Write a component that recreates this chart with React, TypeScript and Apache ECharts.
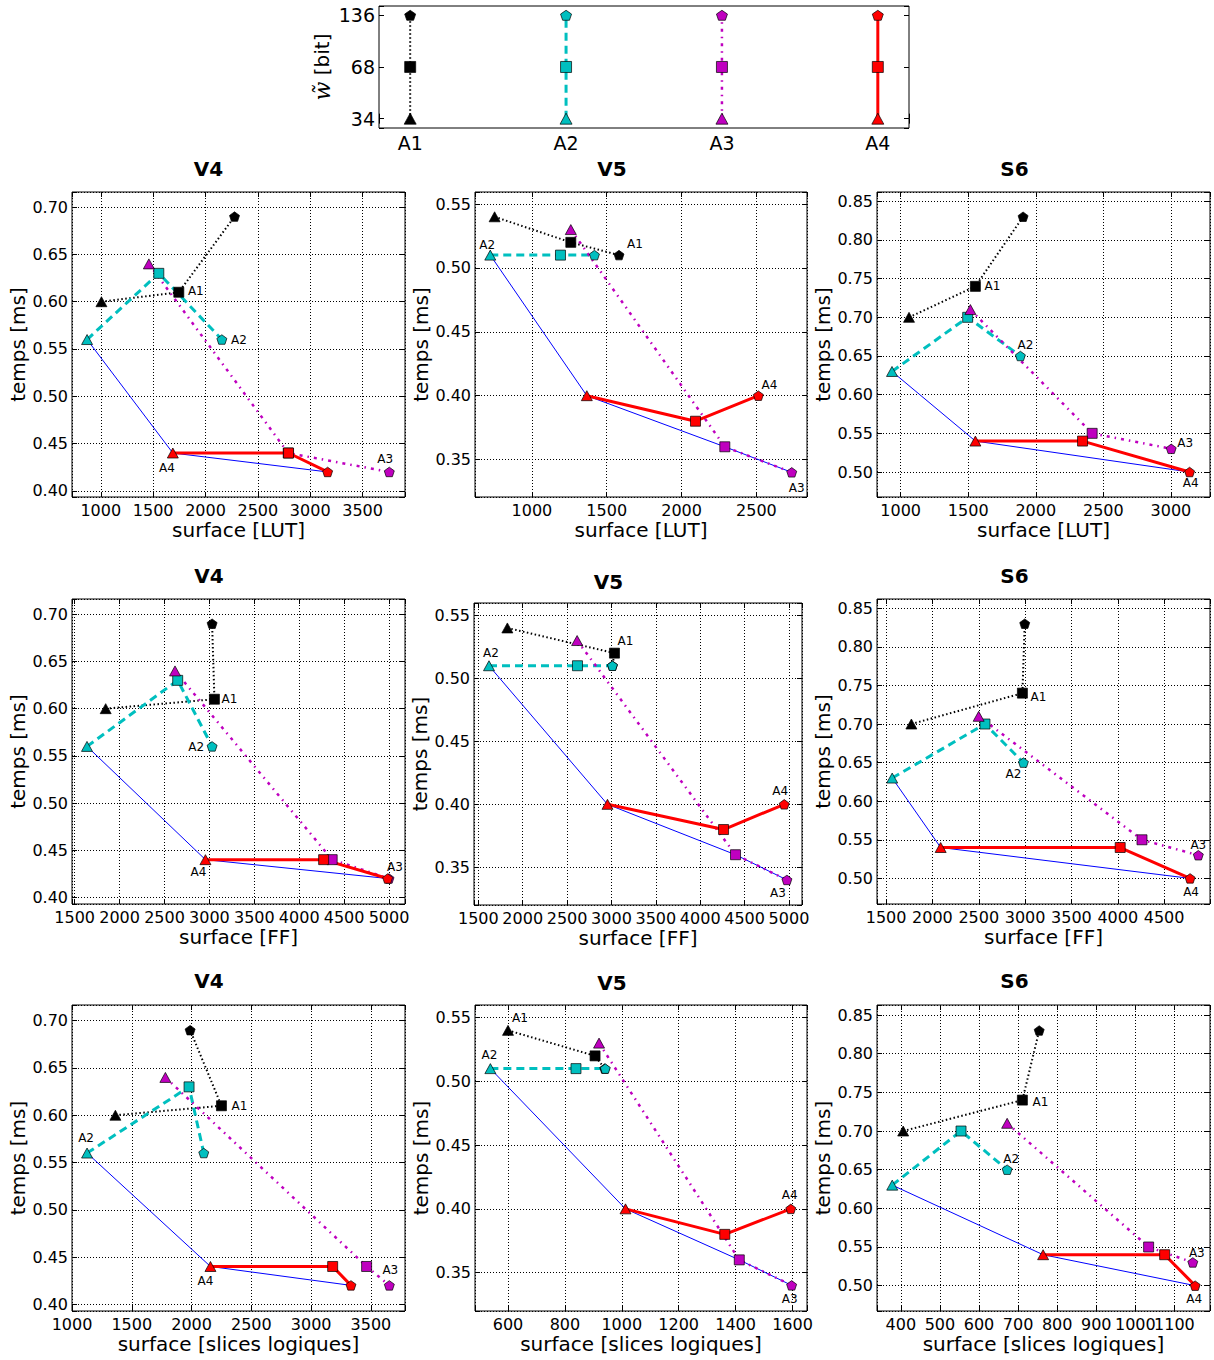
import React, { useEffect, useRef } from 'react';
import * as echarts from 'echarts';

// ---------- data ----------
const ARCHS = ['A1', 'A2', 'A3', 'A4'];
const W_BITS = [34, 68, 136];
const ROW_TITLES = ['V4', 'V5', 'S6'];
const X_NAMES = ['surface [LUT]', 'surface [FF]', 'surface [slices logiques]'];

// each: [arch][point: w=34, 68, 136]
const V4_LUT_X = [[1006, 1745, 2277], [869, 1554, 2156], [1459, 2790, 3755], [1688, 2793, 3166]];
const V4_LUT_Y = [[0.60, 0.61, 0.69], [0.56, 0.63, 0.56], [0.64, 0.44, 0.42], [0.44, 0.44, 0.42]];
const V5_LUT_X = [[751, 1260, 1582], [722, 1191, 1418], [1260, 2289, 2736], [1367, 2093, 2513]];
const V5_LUT_Y = [[0.54, 0.52, 0.51], [0.51, 0.51, 0.51], [0.53, 0.36, 0.34], [0.40, 0.38, 0.40]];
const S6_LUT_X = [[1062, 1553, 1906], [936, 1496, 1886], [1516, 2417, 3002], [1553, 2346, 3138]];
const S6_LUT_Y = [[0.70, 0.74, 0.83], [0.63, 0.70, 0.65], [0.71, 0.55, 0.53], [0.54, 0.54, 0.50]];

const V4_FF_X = [[1845, 3056, 3030], [1637, 2647, 3030], [2617, 4367, 5000], [2956, 4272, 4985]];
const V4_FF_Y = [[0.60, 0.61, 0.69], [0.56, 0.63, 0.56], [0.64, 0.44, 0.42], [0.44, 0.44, 0.42]];
const V5_FF_X = [[1827, 3034, 3011], [1620, 2617, 3011], [2613, 4398, 4977], [2955, 4263, 4947]];
const V5_FF_Y = [[0.54, 0.52, 0.51], [0.51, 0.51, 0.51], [0.53, 0.36, 0.34], [0.40, 0.38, 0.40]];
const S6_FF_X = [[1773, 2971, 2996], [1566, 2567, 2982], [2499, 4261, 4869], [2089, 4026, 4780]];
const S6_FF_Y = [[0.70, 0.74, 0.83], [0.63, 0.70, 0.65], [0.71, 0.55, 0.53], [0.54, 0.54, 0.50]];

const V4_SL_X = [[1363, 2250, 1988], [1126, 1979, 2102], [1781, 3464, 3654], [2158, 3180, 3333]];
const V4_SL_Y = [[0.60, 0.61, 0.69], [0.56, 0.63, 0.56], [0.64, 0.44, 0.42], [0.44, 0.44, 0.42]];
const V5_SL_X = [[600, 906, 940], [538, 839, 942], [920, 1413, 1597], [1013, 1362, 1594]];
const V5_SL_Y = [[0.54, 0.52, 0.51], [0.51, 0.51, 0.51], [0.53, 0.36, 0.34], [0.40, 0.38, 0.40]];
const S6_SL_X = [[406, 711, 754], [378, 554, 672], [672, 1034, 1147], [764, 1075, 1153]];
const S6_SL_Y = [[0.70, 0.74, 0.83], [0.63, 0.70, 0.65], [0.71, 0.55, 0.53], [0.54, 0.54, 0.50]];

// Pareto front: [arch index, point index]
const PARETO_V4 = [[1, 0], [3, 0], [3, 2]];
const PARETO_V5 = [[1, 0], [3, 0], [2, 1], [2, 2]];
const PARETO_S6 = [[1, 0], [3, 0], [3, 2]];

// axis ranges
const X_LIMS = [[725, 3905], [620, 2838], [825, 3289], [1470, 5178], [1451, 5147], [1402, 4995], [1000, 3785], [484, 1651], [339, 1191]];
const Y_LIMS = [[0.3935, 0.716], [0.3207, 0.5594], [0.4677, 0.862], [0.393, 0.7162], [0.3201, 0.5598], [0.4668, 0.862], [0.3929, 0.7166], [0.3199, 0.5599], [0.4672, 0.863]];
const X_STEPS = [500, 500, 500, 500, 500, 500, 500, 200, 100];

// ---------- layout / style ----------
const GRIDS = [
  { left: 72, top: 192, width: 333, height: 305 },
  { left: 475, top: 192, width: 332, height: 305 },
  { left: 877, top: 192, width: 333, height: 305 },
  { left: 72, top: 599, width: 333, height: 305 },
  { left: 474, top: 603, width: 328, height: 302 },
  { left: 877, top: 599, width: 333, height: 305 },
  { left: 72, top: 1005, width: 333, height: 306 },
  { left: 475, top: 1005, width: 332, height: 306 },
  { left: 877, top: 1005, width: 333, height: 306 },
];
const TOP_GRID = { left: 379, top: 6, width: 530, height: 122 };
const TITLE_POS = [
  [208.5, 169], [612, 169], [1014.5, 169],
  [209, 576], [608.5, 582], [1014.5, 576],
  [209, 981], [612, 983], [1014.5, 981],
];
// annotations: [arch, point, dx, dy]
const ANNOTS = [
  [[0, 1, 17, -1], [1, 2, 17, 0], [2, 2, -4, -13], [3, 0, -6, 15]],
  [[1, 0, -3, -10], [0, 2, 16, -11], [3, 2, 11, -11], [2, 2, 5, 16]],
  [[0, 1, 17, 0], [1, 2, 5, -11], [2, 2, 14, -6], [3, 2, 1, 11]],
  [[0, 1, 15, 0], [1, 2, -16, 1], [2, 2, 6, -12], [3, 0, -7, 12]],
  [[1, 0, 2, -13], [0, 1, 11, -12], [3, 2, -4, -13], [2, 2, -9, 13]],
  [[0, 1, 16, 4], [1, 2, -10, 11], [2, 2, 0, -10], [3, 2, 1, 14]],
  [[0, 1, 18, 0], [1, 0, -1, -15], [2, 2, 1, -15], [3, 0, -5, 15]],
  [[0, 0, 12, -12], [1, 0, -1, -14], [3, 2, -1, -14], [2, 2, -2, 14]],
  [[0, 1, 18, 2], [1, 2, 4, -11], [2, 2, 4, -9], [3, 2, -1, 13]],
];

const LINE_STYLES = [
  { color: '#000000', width: 2, type: [1.5, 2.5] },
  { color: '#00bfbf', width: 3, type: [8, 5] },
  { color: '#bf00bf', width: 2.5, type: [3, 5, 1.5, 5] },
  { color: '#ff0000', width: 3, type: 'solid' },
];
const PENT = 'path://M0,-1L0.951,-0.309L0.588,0.809L-0.588,0.809L-0.951,-0.309Z';
const SYMBOLS = ['triangle', 'rect', PENT];
const SIZES: any[] = [[11, 10], 10, [10, 9.5]];
const TOP_SIZES: any[] = [[12, 11], 11, [11, 10]];
const FONT = 'DejaVu Sans';
const TICK_FONT = 16;

const isMult = (v: number, iv: number) => Math.abs(v / iv - Math.round(v / iv)) < 1e-6;
const TICK = { show: true, inside: true, length: 5, lineStyle: { color: '#000', width: 1 } };

function buildOption() {
  const panelsX = [V4_LUT_X, V5_LUT_X, S6_LUT_X, V4_FF_X, V5_FF_X, S6_FF_X, V4_SL_X, V5_SL_X, S6_SL_X];
  const panelsY = [V4_LUT_Y, V5_LUT_Y, S6_LUT_Y, V4_FF_Y, V5_FF_Y, S6_FF_Y, V4_SL_Y, V5_SL_Y, S6_SL_Y];
  const paretos = [PARETO_V4, PARETO_V5, PARETO_S6];

  const grid: any[] = [];
  const xAxis: any[] = [];
  const yAxis: any[] = [];
  const series: any[] = [];
  const graphic: any[] = [];

  for (let g = 0; g < 9; g++) {
    const row = Math.floor(g / 3);
    const col = g % 3;
    grid.push({ ...GRIDS[g], show: true, borderColor: '#000', borderWidth: 1, outerBoundsMode: 'none' });
    const xiv = X_STEPS[g];
    const yiv = 0.05;
    const xl = X_LIMS[g];
    const yl = Y_LIMS[g];
    xAxis.push({
      type: 'value', gridIndex: g, position: 'bottom', min: xl[0], max: xl[1],
      minInterval: xiv, maxInterval: xiv, splitNumber: 6,
      axisLine: { show: false }, axisTick: TICK,
      splitLine: { show: true, lineStyle: { color: '#000', type: [1, 2], width: 1 } },
      axisLabel: { fontSize: TICK_FONT, color: '#000', fontFamily: FONT, margin: 5,
        formatter: (v: number) => (isMult(v, xiv) ? String(Math.round(v)) : '') },
      name: X_NAMES[row], nameLocation: 'middle', nameGap: 23,
      nameTextStyle: { fontSize: 20, color: '#000', fontFamily: FONT },
    });
    xAxis.push({
      type: 'value', gridIndex: g, position: 'top', min: xl[0], max: xl[1],
      minInterval: xiv, maxInterval: xiv, splitNumber: 6,
      axisLine: { show: false }, axisTick: TICK, axisLabel: { show: false }, splitLine: { show: false },
    });
    yAxis.push({
      type: 'value', gridIndex: g, position: 'left', min: yl[0], max: yl[1],
      minInterval: yiv, maxInterval: yiv, splitNumber: 6,
      axisLine: { show: false }, axisTick: TICK,
      splitLine: { show: true, lineStyle: { color: '#000', type: [1, 2], width: 1 } },
      axisLabel: { fontSize: TICK_FONT, color: '#000', fontFamily: FONT, margin: 4,
        formatter: (v: number) => (isMult(v, yiv) ? v.toFixed(2) : '') },
      name: 'temps [ms]', nameLocation: 'middle', nameGap: 43,
      nameTextStyle: { fontSize: 20, color: '#000', fontFamily: FONT },
    });
    yAxis.push({
      type: 'value', gridIndex: g, position: 'right', min: yl[0], max: yl[1],
      minInterval: yiv, maxInterval: yiv, splitNumber: 6,
      axisLine: { show: false }, axisTick: TICK, axisLabel: { show: false }, splitLine: { show: false },
    });

    const X = panelsX[g];
    const Y = panelsY[g];
    // pareto front
    series.push({
      type: 'line', xAxisIndex: 2 * g, yAxisIndex: 2 * g, z: 1, silent: true,
      symbol: 'none', lineStyle: { color: '#0000ff', width: 1 },
      data: paretos[col].map(([a, p]) => [X[a][p], Y[a][p]]),
    });
    for (let a = 0; a < 4; a++) {
      const ls = LINE_STYLES[a];
      series.push({
        type: 'line', xAxisIndex: 2 * g, yAxisIndex: 2 * g, z: 2, silent: true,
        lineStyle: { color: ls.color, width: ls.width, type: ls.type },
        itemStyle: { color: ls.color, borderColor: '#000', borderWidth: 0.7 },
        showSymbol: true,
        data: X[a].map((x, i) => {
          const ann = ANNOTS[g].find((t) => t[0] === a && t[1] === i);
          const item: any = { value: [x, Y[a][i]], symbol: SYMBOLS[i], symbolSize: SIZES[i] };
          if (ann) {
            item.label = { show: true, formatter: ARCHS[a], position: 'inside', offset: [ann[2], ann[3]],
              color: '#000', fontSize: 12, fontFamily: FONT };
          }
          return item;
        }),
      });
    }
    graphic.push({
      type: 'text', x: TITLE_POS[g][0], y: TITLE_POS[g][1], silent: true,
      style: { text: ROW_TITLES[col], fill: '#000', font: `bold 20px "${FONT}"`, align: 'center', verticalAlign: 'middle' },
    });
  }

  // top legend-like panel
  const tg = 9;
  grid.push({ ...TOP_GRID, show: true, borderColor: '#000', borderWidth: 1, outerBoundsMode: 'none' });
  const wl = [Math.log2(30 / W_BITS[0]), Math.log2(154 / W_BITS[0])];
  xAxis.push({
    type: 'value', gridIndex: tg, position: 'bottom', min: 0.8, max: 4.2, minInterval: 1, maxInterval: 1,
    axisLine: { show: false }, axisTick: TICK, splitLine: { show: false },
    axisLabel: { fontSize: 19, color: '#000', fontFamily: FONT, margin: 5,
      formatter: (v: number) => (isMult(v, 1) ? ARCHS[Math.round(v) - 1] : '') },
  });
  xAxis.push({
    type: 'value', gridIndex: tg, position: 'top', min: 0.8, max: 4.2, minInterval: 1, maxInterval: 1,
    axisLine: { show: false }, axisTick: TICK, axisLabel: { show: false }, splitLine: { show: false },
  });
  yAxis.push({
    type: 'value', gridIndex: tg, position: 'left', min: wl[0], max: wl[1], minInterval: 1, maxInterval: 1,
    axisLine: { show: false }, axisTick: TICK, splitLine: { show: false },
    axisLabel: { fontSize: 19, color: '#000', fontFamily: FONT, margin: 4,
      formatter: (v: number) => (isMult(v, 1) ? String(W_BITS[Math.round(v)]) : '') },
    name: '{w|w\u0303} [bit]', nameLocation: 'middle', nameGap: 46,
    nameTextStyle: { fontSize: 20, color: '#000', fontFamily: FONT,
      rich: { w: { fontSize: 22, fontStyle: 'italic', fontFamily: 'DejaVu Serif', color: '#000' } } },
  });
  yAxis.push({
    type: 'value', gridIndex: tg, position: 'right', min: wl[0], max: wl[1], minInterval: 1, maxInterval: 1,
    axisLine: { show: false }, axisTick: TICK, axisLabel: { show: false }, splitLine: { show: false },
  });
  for (let a = 0; a < 4; a++) {
    const ls = LINE_STYLES[a];
    series.push({
      type: 'line', xAxisIndex: 2 * tg, yAxisIndex: 2 * tg, z: 2, silent: true,
      lineStyle: { color: ls.color, width: ls.width, type: ls.type },
      itemStyle: { color: ls.color, borderColor: '#000', borderWidth: 0.7 },
      showSymbol: true,
      data: W_BITS.map((w, i) => ({ value: [a + 1, Math.log2(w / W_BITS[0])], symbol: SYMBOLS[i], symbolSize: TOP_SIZES[i] })),
    });
  }

  return {
    animation: false,
    backgroundColor: '#ffffff',
    textStyle: { fontFamily: FONT },
    grid, xAxis, yAxis, series, graphic,
  };
}

export default function App() {
  const ref = useRef<HTMLDivElement>(null);
  useEffect(() => {
    if (!ref.current) return;
    const chart = echarts.init(ref.current, undefined, { renderer: 'svg' });
    chart.setOption(buildOption() as any);
    return () => chart.dispose();
  }, []);
  return (
    <div
      ref={ref}
      style={{ position: 'absolute', left: 0, top: 0, width: 1214, height: 1360, background: '#fff' }}
    />
  );
}
